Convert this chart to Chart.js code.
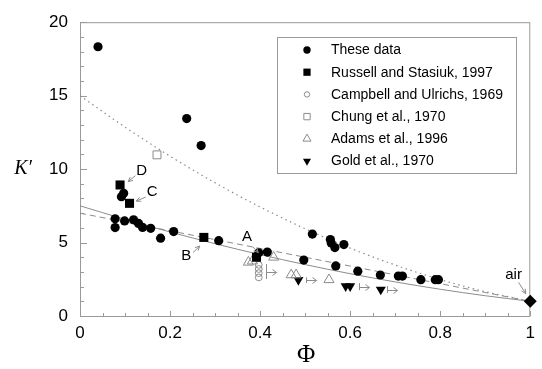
<!DOCTYPE html>
<html>
<head>
<meta charset="utf-8">
<script src="https://cdn.jsdelivr.net/npm/chart.js@4.4.0/dist/chart.umd.min.js"></script>
<style>
  html, body { margin: 0; padding: 0; background: #fff; }
</style>
</head>
<body>
<canvas id="myChart" width="542" height="369"></canvas>
<script>
// Data
const theseX = [0.04, 0.237, 0.269, 0.092, 0.097, 0.078, 0.078, 0.099, 0.119, 0.13, 0.139, 0.157,
  0.179, 0.208, 0.308, 0.397, 0.416, 0.497, 0.516, 0.556, 0.558, 0.566, 0.586, 0.568, 0.617,
  0.667, 0.707, 0.716, 0.757, 0.789, 0.796];
const theseY = [18.33, 13.44, 11.6, 8.12, 8.35, 6.62, 6.02, 6.47, 6.55, 6.3, 6.03, 5.97,
  5.3, 5.75, 5.13, 4.3, 4.35, 3.81, 5.58, 5.2, 4.97, 4.66, 4.86, 3.41, 3.05,
  2.79, 2.72, 2.72, 2.47, 2.47, 2.47];

const russellX = [0.089, 0.11, 0.275, 0.392];
const russellY = [8.92, 7.67, 5.35, 4.0];

const campbellX = [0.397, 0.397, 0.397, 0.397];
const campbellY = [3.48, 3.2, 2.92, 2.63];

const chungX = [0.171];
const chungY = [10.97];

const adamsX = [0.374, 0.383, 0.43, 0.469, 0.48, 0.553];
const adamsY = [3.66, 3.74, 4.0, 2.8, 2.8, 2.47];

const goldX = [0.485, 0.59, 0.6, 0.668];
const goldY = [2.45, 2.03, 2.03, 1.8];

const airX = [1];
const airY = [1];

// model curves
const curveX = [0, 0.1, 0.2, 0.3, 0.4, 0.5, 0.6, 0.7, 0.8, 0.9, 1];
const solidK = [7.5, 6.58, 5.72, 4.92, 4.18, 3.5, 2.88, 2.32, 1.82, 1.38, 1.0];
const dashedK = [7.0, 6.4, 5.8, 5.2, 4.6, 4.0, 3.4, 2.8, 2.2, 1.6, 1.0];
const dottedK = [15, 12.86, 10.88, 9.07, 7.42, 5.94, 4.62, 3.47, 2.48, 1.66, 1.0];

// lower-bound porosity markers  |->
const boundX = [0.414, 0.502, 0.619, 0.681];
const boundLow = [2.52, 2.25, 1.76, 1.56];
const boundHigh = [3.53, 2.63, 2.24, 2.03];

const xTicks = [0, 0.2, 0.4, 0.6, 0.8, 1];
const yTicks = [0, 5, 10, 15, 20];

const notes = [
  { text: "D", x: 0.137, y: 9.9, from: [0.123, 9.55], to: [0.107, 9.15] },
  { text: "C", x: 0.160, y: 8.45, from: [0.146, 8.1], to: [0.125, 7.82] },
  { text: "B", x: 0.236, y: 4.08, from: [0.251, 4.32], to: [0.266, 4.76] },
  { text: "A", x: 0.371, y: 5.38, from: [0.384, 4.7], to: [0.396, 4.32] },
  { text: "air", x: 0.963, y: 2.79, from: [0.974, 2.29], to: [0.99, 1.52] }
];

const zip = (xs, ys) => xs.map((x, i) => ({ x, y: ys[i] }));
const gray = "#8c8c8c";
const axisGray = "#9a9a9a";
const sans = "'Liberation Sans', Arial, sans-serif";

function drawMarker(ctx, style, rot, x, y, r, fill, stroke, lw) {
  ctx.beginPath();
  if (style === "circle") {
    ctx.arc(x, y, r, 0, Math.PI * 2);
  } else if (style === "rect") {
    const s = r * Math.SQRT1_2;
    ctx.rect(x - s, y - s, 2 * s, 2 * s);
  } else if (style === "triangle") {
    const d = rot === 180 ? -1 : 1;
    ctx.moveTo(x, y - d * r);
    ctx.lineTo(x + r * 0.866, y + d * r * 0.5);
    ctx.lineTo(x - r * 0.866, y + d * r * 0.5);
    ctx.closePath();
  }
  ctx.fillStyle = fill;
  ctx.fill();
  if (lw) {
    ctx.lineWidth = lw;
    ctx.strokeStyle = stroke;
    ctx.stroke();
  }
}

function arrowHead(ctx, x0, y0, x1, y1, len) {
  const a = Math.atan2(y1 - y0, x1 - x0);
  ctx.moveTo(x1 - len * Math.cos(a - 0.45), y1 - len * Math.sin(a - 0.45));
  ctx.lineTo(x1, y1);
  ctx.lineTo(x1 - len * Math.cos(a + 0.45), y1 - len * Math.sin(a + 0.45));
}

const framePlugin = {
  id: "frame",
  beforeDatasetsDraw(chart) {
    const { ctx, chartArea: a, scales: { x, y } } = chart;
    ctx.save();
    ctx.strokeStyle = axisGray;
    ctx.lineWidth = 1;
    ctx.strokeRect(a.left + 0.5, a.top + 0.5, a.right - a.left - 1, a.bottom - a.top);
    ctx.beginPath();
    for (let v = 0; v <= 20; v++) {
      const py = Math.round(y.getPixelForValue(v)) + 0.5;
      const len = v % 5 === 0 ? 7 : 4;
      ctx.moveTo(a.left, py);
      ctx.lineTo(a.left + len, py);
    }
    for (let i = 0; i <= 20; i++) {
      const px = Math.round(x.getPixelForValue(i * 0.05)) + 0.5;
      const len = i % 4 === 0 ? 5 : 3;
      ctx.moveTo(px, a.bottom);
      ctx.lineTo(px, a.bottom - len);
    }
    ctx.stroke();

    // axis titles
    ctx.fillStyle = "#000";
    ctx.textAlign = "center";
    ctx.textBaseline = "middle";
    ctx.font = "italic 20px 'Liberation Serif', 'DejaVu Serif', serif";
    ctx.fillText("K\u2032", 23, (a.top + a.bottom) / 2);
    ctx.font = "25px 'Liberation Serif', 'DejaVu Serif', serif";
    ctx.fillText("\u03A6", (a.left + a.right) / 2 + 1, 355);
    ctx.restore();
  },
  afterDatasetsDraw(chart) {
    const { ctx, scales: { x, y } } = chart;
    ctx.save();
    ctx.strokeStyle = gray;
    ctx.lineWidth = 1;
    // |-> bound markers
    boundX.forEach((bx, i) => {
      const px = Math.round(x.getPixelForValue(bx)) + 0.5;
      const top = y.getPixelForValue(boundHigh[i]);
      const bot = y.getPixelForValue(boundLow[i]);
      const mid = Math.round((top + bot) / 2) + 0.5;
      ctx.beginPath();
      ctx.moveTo(px, top);
      ctx.lineTo(px, bot);
      ctx.moveTo(px, mid);
      ctx.lineTo(px + 10, mid);
      ctx.moveTo(px + 6, mid - 3);
      ctx.lineTo(px + 10, mid);
      ctx.lineTo(px + 6, mid + 3);
      ctx.stroke();
    });
    // labelled arrows
    ctx.fillStyle = "#000";
    ctx.font = "15px " + sans;
    ctx.textAlign = "center";
    ctx.textBaseline = "middle";
    notes.forEach(n => {
      ctx.fillText(n.text, x.getPixelForValue(n.x), y.getPixelForValue(n.y));
      const x0 = x.getPixelForValue(n.from[0]), y0 = y.getPixelForValue(n.from[1]);
      const x1 = x.getPixelForValue(n.to[0]), y1 = y.getPixelForValue(n.to[1]);
      ctx.beginPath();
      ctx.moveTo(x0, y0);
      ctx.lineTo(x1, y1);
      arrowHead(ctx, x0, y0, x1, y1, 5);
      ctx.stroke();
    });
    ctx.restore();
  }
};

const legendPlugin = {
  id: "boxLegend",
  afterDraw(chart) {
    const ctx = chart.ctx;
    ctx.save();
    ctx.strokeStyle = axisGray;
    ctx.lineWidth = 1;
    ctx.strokeRect(277.5, 37.5, 239, 136);
    ctx.font = "14px " + sans;
    ctx.textAlign = "left";
    ctx.textBaseline = "middle";
    chart.data.datasets.filter(ds => ds.inLegend).forEach((ds, i) => {
      const cy = 50 + i * 22.2;
      drawMarker(ctx, ds.pointStyle, ds.pointRotation, 307, cy, ds.pointRadius * 0.8,
        ds.backgroundColor, ds.borderColor, ds.pointBorderWidth);
      ctx.fillStyle = "#000";
      ctx.fillText(ds.label, 331, cy + 0.5);
    });
    ctx.restore();
  }
};

const curve = (ys, dash, w) => ({
  type: "line",
  data: zip(curveX, ys),
  borderColor: gray,
  borderWidth: w,
  borderDash: dash,
  pointRadius: 0,
  cubicInterpolationMode: "monotone",
  fill: false,
  order: 10,
});

const marks = (label, xs, ys, style, r, fill, stroke, bw, rot) => ({
  label,
  inLegend: true,
  data: zip(xs, ys),
  pointStyle: style,
  pointRadius: r,
  pointRotation: rot || 0,
  backgroundColor: fill,
  borderColor: stroke,
  pointBorderWidth: bw,
  clip: false,
  order: 1,
});

const data = {
  datasets: [
    marks("These data", theseX, theseY, "circle", 4.6, "#000", "#000", 0),
    marks("Russell and Stasiuk, 1997", russellX, russellY, "rect", 6.4, "#000", "#000", 0),
    marks("Campbell and Ulrichs, 1969", campbellX, campbellY, "circle", 3.4, "rgba(0,0,0,0)", gray, 1),
    marks("Chung et al., 1970", chungX, chungY, "rect", 5.6, "rgba(0,0,0,0)", gray, 1),
    marks("Adams et al., 1996", adamsX, adamsY, "triangle", 5.8, "rgba(0,0,0,0)", gray, 1),
    marks("Gold et al., 1970", goldX, goldY, "triangle", 5.8, "#000", "#000", 0, 180),
    {
      label: "air",
      data: zip(airX, airY),
      pointStyle: "rectRot",
      pointRadius: 6.5,
      backgroundColor: "#000",
      borderColor: "#000",
      pointBorderWidth: 0,
      clip: false,
      order: 1,
    },
    curve(solidK, [], 1),
    curve(dashedK, [6, 4], 1),
    curve(dottedK, [1.5, 3.5], 1.2),
  ],
};

const config = {
  type: "scatter",
  data,
  options: {
    responsive: false,
    animation: false,
    devicePixelRatio: 1,
    layout: { padding: { top: 17, right: 7, left: 0, bottom: 0 } },
    plugins: { legend: { display: false }, tooltip: { enabled: false } },
    scales: {
      x: {
        type: "linear",
        min: 0,
        max: 1,
        afterFit: (s) => { s.height = 53; },
        afterBuildTicks: (s) => { s.ticks = xTicks.map(v => ({ value: v })); },
        grid: { display: false, drawTicks: false },
        border: { display: false },
        ticks: {
          padding: 7,
          color: "#000",
          font: { family: sans, size: 17 },
          callback: (v) => String(Number(v.toFixed(1))),
        },
      },
      y: {
        type: "linear",
        min: 0,
        max: 20,
        afterFit: (s) => { s.width = 80; },
        afterBuildTicks: (s) => { s.ticks = yTicks.map(v => ({ value: v })); },
        grid: { display: false, drawTicks: false },
        border: { display: false },
        ticks: {
          padding: 12,
          color: "#000",
          font: { family: sans, size: 17 },
          callback: (v) => String(v),
        },
      },
    },
  },
  plugins: [framePlugin, legendPlugin],
};

const myChart = new Chart(document.getElementById("myChart").getContext("2d"), config);
</script>
</body>
</html>
